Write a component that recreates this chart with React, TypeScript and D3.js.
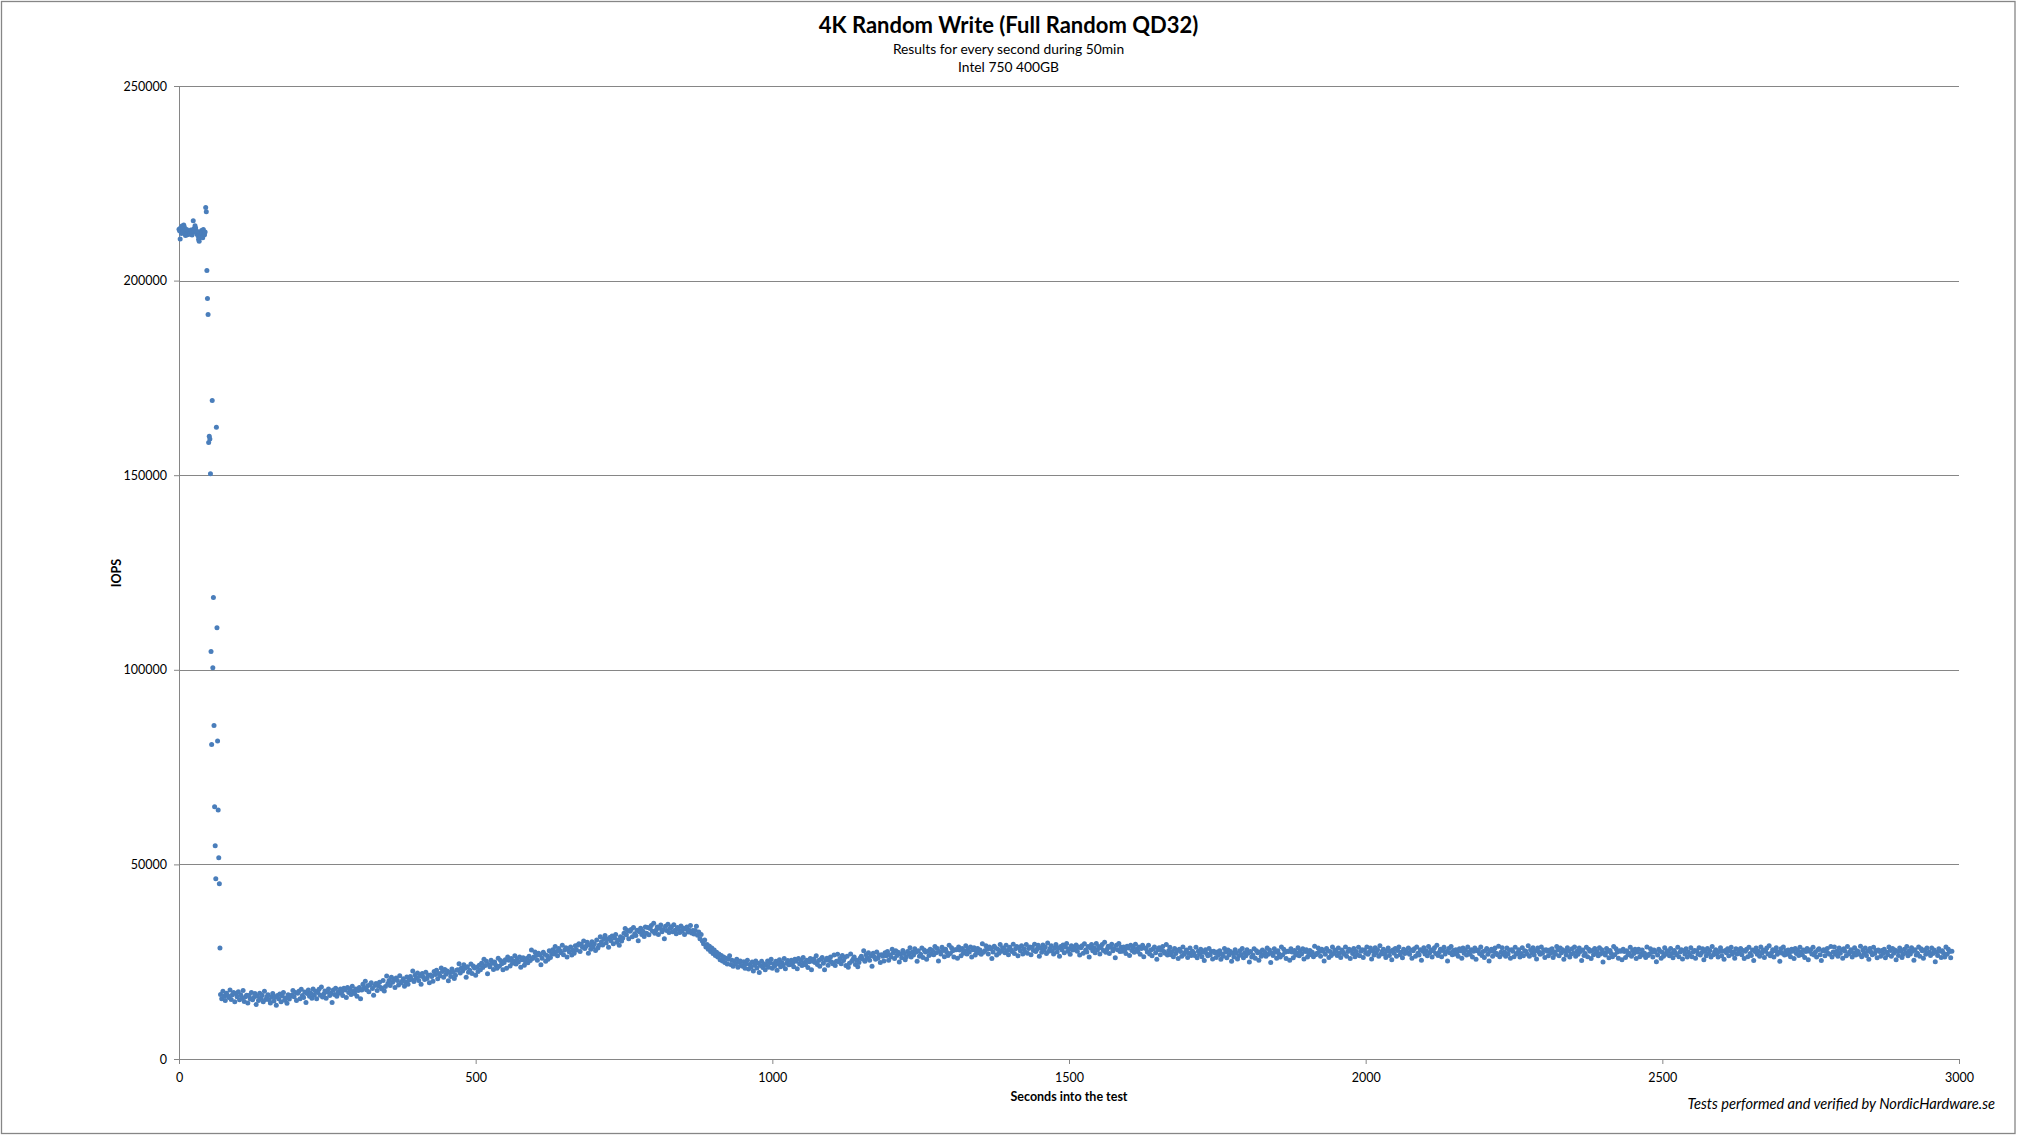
import { useEffect, useRef } from 'react';
import * as d3 from 'd3';

const WIDTH = 2017;
const HEIGHT = 1135;
const margin = { left: 179, right: 58, top: 86, bottom: 76 };

const title = '4K Random Write (Full Random QD32)';
const subtitles = ['Results for every second during 50min', 'Intel 750 400GB'];
const xTitle = 'Seconds into the test';
const yTitle = 'IOPS';
const credit = 'Tests performed and verified by NordicHardware.se';

const xTicks = [0, 500, 1000, 1500, 2000, 2500, 3000];
const yTicks = [0, 50000, 100000, 150000, 200000, 250000];

// all values below are IOPS / 100
const UNIT = 100;

// seconds 0..69, one value per second
const burstIops = [
  2132, 2128, 2107, 2136, 2121, 2140, 2134, 2125, 2143, 2138,
  2120, 2116, 2129, 2131, 2118, 2123, 2126, 2119, 2124, 2122,
  2130, 2121, 2117, 2128, 2154, 2133, 2127, 2141, 2135, 2124,
  2120, 2126, 2115, 2106, 2101, 2112, 2123, 2116, 2129, 2122,
  2110, 2131, 2124, 2118, 2125,
  2188, 2177, 2026, 1954, 1913, 1584, 1600, 1593, 1504, 1047,
  808, 1692, 1005, 1186, 857, 648, 548, 463, 1623, 1108,
  817, 640, 517, 450, 285,
];

// from here on one value every 2 seconds
const STEP = 2;

const rampStart = 70;
const rampIops = [
  166, 155, 174, 161, 150, 169, 163, 158, 177, 153, 165, 171, 147, 168, 160, 173, 152, 165, 157, 176,
  148, 160, 164, 144, 163, 155, 171, 152, 158, 168, 140, 161, 150, 169, 156, 164, 147, 174, 153, 160,
  165, 152, 144, 160, 168, 149, 159, 138, 163, 155, 167, 147, 162, 171, 151, 157, 143, 165, 154, 162,
  164, 176, 160, 171, 150, 169, 174, 155, 179, 163, 158, 172, 145, 168, 177, 161, 169, 156, 180, 164,
  174, 155, 171, 179, 164, 185, 159, 167, 175, 156, 172, 180, 163, 169, 145, 177, 166, 182, 161, 172,
  169, 180, 172, 163, 182, 177, 158, 184, 171, 179, 166, 187, 174, 168, 180, 161, 176, 184, 155, 177,
  192, 183, 200, 178, 188, 173, 191, 196, 181, 164, 189, 194, 176, 188, 197, 184, 180, 202, 175, 186,
  213, 194, 202, 189, 210, 197, 205, 184, 208, 202, 190, 214, 195, 200, 206, 187, 198, 211, 192, 203,
  212, 205, 226, 199, 216, 208, 221, 202, 213, 192, 220, 210, 204, 223, 207, 215, 196, 216, 212, 200,
  225, 217, 228, 206, 220, 214, 234, 225, 210, 230, 218, 226, 201, 222, 212, 231, 223, 207, 215, 228,
  229, 245, 221, 234, 226, 242, 233, 210, 237, 223, 228, 244, 220, 239, 234, 215, 236, 225, 241, 229,
  246, 235, 256, 240, 251, 219, 243, 237, 254, 246, 230, 249, 241, 233, 259, 238, 253, 245, 229, 248,
  255, 233, 262, 254, 239, 258, 246, 252, 265, 244, 257, 249, 262, 236, 255, 260, 241, 250, 258, 247,
  264, 253, 280, 258, 262, 275, 266, 254, 272, 267, 242, 259, 274, 269, 251, 266, 256, 278, 261, 270,
  281, 270, 289, 276, 265, 284, 278, 273, 292, 268, 280, 286, 262, 283, 275, 288, 267, 280, 272, 291,
  280, 292, 296, 276, 295, 287, 303, 284, 290, 300, 272, 293, 282, 301, 288, 296, 279, 306, 285, 292,
  314, 301, 293, 309, 317, 298, 308, 287, 312, 304, 316, 296, 311, 320, 300, 306, 292, 314, 303, 311,
  323, 335, 319, 330, 309, 328, 333, 314, 338, 322, 317, 331, 304, 327, 336, 320, 328, 315, 339, 323,
  338, 319, 335, 343, 328, 349, 323, 331, 339, 320, 336, 344, 327, 333, 309, 341, 330, 346, 325, 336,
];

const dropStart = 830;
const dropIops = [
  340, 327, 345, 331, 322, 338, 333, 325, 342, 329, 336, 320, 334, 339, 326, 331, 343, 324, 330, 321,
  330, 341, 318, 326, 309, 320, 303, 296, 306, 288, 294, 282, 290, 276, 285, 271, 280, 266, 274, 262,
  270, 255, 266, 252, 262, 248, 259, 244, 256, 265, 243, 254, 238, 251, 245, 256, 236, 248, 252, 240,
  238, 250, 233, 245, 254, 231, 243, 236, 249, 226, 241, 252, 234, 246, 222, 240, 251, 235, 244, 229,
  241, 252, 236, 247, 256, 233, 245, 239, 251, 228, 244, 255, 237, 248, 240, 258, 232, 246, 253, 242,
];

const recoveryStart = 1030;
const recoveryIops = [
  243, 254, 246, 237, 256, 251, 232, 258, 245, 253, 240, 261, 248, 242, 254, 235, 250, 258, 229, 251,
  257, 248, 265, 243, 253, 238, 256, 261, 246, 229, 254, 259, 241, 253, 262, 249, 245, 267, 240, 251,
  269, 250, 258, 245, 266, 253, 261, 240, 264, 236, 246, 270, 251, 256, 262, 243, 254, 237, 248, 259,
  264, 257, 278, 251, 268, 260, 273, 254, 265, 238, 272, 262, 256, 275, 259, 267, 248, 268, 264, 252,
  273, 265, 276, 254, 268, 262, 282, 273, 258, 278, 266, 274, 249, 270, 260, 279, 271, 255, 263, 276,
  270, 286, 262, 275, 267, 283, 274, 251, 278, 264, 269, 285, 261, 280, 275, 256, 277, 266, 282, 270,
  279, 268, 289, 273, 284, 252, 276, 270, 287, 279, 263, 282, 274, 266, 292, 271, 286, 278, 262, 281,
  281, 259, 288, 280, 265, 284, 272, 278, 291, 270, 283, 275, 288, 262, 281, 286, 267, 276, 284, 273,
  280, 269, 296, 274, 278, 291, 282, 270, 288, 283, 258, 275, 290, 285, 267, 282, 272, 294, 277, 286,
  284, 273, 292, 279, 268, 287, 281, 276, 295, 271, 283, 289, 265, 286, 278, 291, 270, 283, 275, 294,
  272, 284, 288, 268, 287, 279, 295, 276, 282, 292, 264, 285, 274, 293, 280, 288, 271, 298, 277, 284,
  291, 278, 270, 286, 294, 275, 285, 264, 289, 281, 293, 273, 288, 297, 277, 283, 269, 291, 280, 288,
  281, 293, 277, 288, 267, 286, 291, 272, 296, 280, 275, 289, 262, 285, 294, 278, 286, 273, 297, 281,
  289, 270, 286, 294, 279, 300, 274, 282, 290, 271, 287, 295, 278, 284, 260, 292, 281, 297, 276, 287,
  277, 288, 280, 271, 290, 285, 266, 292, 279, 287, 274, 295, 282, 276, 288, 269, 284, 292, 263, 285,
];

const steadyStart = 1630;
const steadyIops = [
  284, 275, 292, 270, 280, 265, 283, 288, 273, 256, 281, 286, 268, 280, 289, 276, 272, 294, 267, 278,
  287, 268, 276, 263, 284, 271, 279, 258, 282, 276, 264, 288, 269, 274, 280, 261, 272, 285, 266, 277,
  273, 266, 287, 260, 277, 269, 282, 263, 274, 253, 281, 271, 265, 284, 268, 276, 257, 277, 273, 261,
  275, 267, 278, 256, 270, 264, 284, 275, 260, 280, 268, 276, 251, 272, 262, 281, 273, 257, 265, 278,
  268, 284, 260, 273, 265, 281, 272, 249, 276, 262, 267, 283, 259, 278, 273, 254, 275, 264, 280, 268,
  275, 264, 285, 269, 280, 248, 272, 266, 283, 275, 259, 278, 270, 262, 288, 267, 282, 274, 258, 277,
  276, 254, 283, 275, 260, 279, 267, 273, 286, 265, 278, 270, 283, 257, 276, 281, 262, 271, 279, 268,
  274, 263, 290, 268, 272, 285, 276, 264, 282, 277, 252, 269, 284, 279, 261, 276, 266, 288, 271, 280,
  277, 266, 285, 272, 261, 280, 274, 269, 288, 264, 276, 282, 258, 279, 271, 284, 263, 276, 268, 287,
  265, 277, 281, 261, 280, 272, 288, 269, 275, 285, 257, 278, 267, 286, 273, 281, 264, 291, 270, 277,
  282, 269, 261, 277, 285, 266, 276, 255, 280, 272, 284, 264, 279, 288, 268, 274, 260, 282, 271, 279,
  273, 285, 269, 280, 259, 278, 283, 264, 288, 272, 267, 281, 254, 277, 286, 270, 278, 265, 289, 273,
  281, 262, 278, 286, 271, 292, 266, 274, 282, 263, 279, 287, 270, 276, 252, 284, 273, 289, 268, 279,
  270, 281, 273, 264, 283, 278, 259, 285, 272, 280, 267, 288, 275, 269, 281, 262, 277, 285, 256, 278,
  280, 271, 288, 266, 276, 261, 279, 284, 269, 252, 277, 282, 264, 276, 285, 272, 268, 290, 263, 274,
  286, 269, 275, 264, 285, 270, 280, 259, 281, 277, 263, 287, 270, 273, 281, 262, 271, 286, 265, 278,
  277, 270, 291, 264, 281, 273, 286, 267, 278, 257, 285, 275, 269, 288, 272, 280, 261, 281, 277, 265,
  280, 272, 283, 261, 275, 269, 289, 280, 265, 285, 273, 281, 256, 277, 267, 286, 278, 262, 270, 283,
  272, 288, 264, 277, 269, 285, 276, 253, 280, 266, 271, 287, 263, 282, 277, 258, 279, 268, 284, 272,
  276, 265, 286, 270, 281, 249, 273, 267, 284, 276, 260, 279, 271, 263, 289, 268, 283, 275, 259, 278,
  277, 255, 282, 276, 261, 278, 268, 272, 287, 264, 279, 271, 282, 258, 275, 282, 263, 270, 280, 267,
  272, 261, 288, 266, 270, 283, 274, 262, 280, 275, 250, 267, 282, 277, 259, 274, 264, 286, 269, 278,
  276, 265, 284, 271, 260, 279, 273, 268, 287, 263, 275, 281, 257, 278, 270, 283, 262, 275, 267, 286,
  263, 275, 279, 259, 278, 270, 286, 267, 273, 283, 255, 276, 265, 284, 271, 279, 262, 289, 268, 275,
  281, 270, 262, 276, 286, 265, 277, 256, 279, 273, 283, 265, 278, 287, 269, 275, 259, 283, 270, 280,
  272, 284, 268, 279, 258, 277, 282, 263, 287, 271, 266, 280, 253, 276, 285, 269, 277, 264, 288, 272,
  280, 261, 277, 285, 270, 291, 265, 273, 281, 262, 278, 286, 269, 275, 251, 283, 272, 288, 267, 278,
  269, 280, 272, 263, 282, 277, 258, 284, 271, 279, 266, 287, 274, 268, 280, 261, 276, 284, 255, 277,
  281, 270, 287, 267, 275, 262, 280, 283, 268, 253, 278, 281, 265, 277, 284, 271, 269, 289, 262, 275,
  288, 269, 277, 264, 285, 272, 280, 259, 283, 277, 265, 289, 270, 275, 281, 262, 273, 286, 267, 278,
  276, 269, 290, 263, 280, 272, 285, 266, 277, 256, 284, 274, 268, 287, 271, 279, 260, 280, 276, 264,
  279, 271, 282, 260, 274, 268, 288, 279, 264, 284, 272, 280, 255, 276, 266, 285, 277, 261, 269, 282,
  273, 289, 265, 278, 270, 286, 277, 254, 281, 267, 272, 288, 264, 283, 278, 259, 280, 269, 285, 273,
  275, 266, 285, 271, 280, 250, 274, 266, 283, 277, 261, 278, 272, 262, 288, 269, 282, 276, 260, 277,
];

const segments = [
  { start: rampStart, values: rampIops },
  { start: dropStart, values: dropIops },
  { start: recoveryStart, values: recoveryIops },
  { start: steadyStart, values: steadyIops },
];

const FONT = 'Lato, "Open Sans", sans-serif';
const GRID = '#868686';
const DOT = '#4a7ebb';

function App() {
  const svgRef = useRef<SVGSVGElement>(null);

  useEffect(() => {
    if (svgRef.current === null) return;

    const points: { t: number; v: number }[] = burstIops.map((v, i) => ({ t: i, v: v * UNIT }));
    segments.forEach(({ start, values }) => {
      values.forEach((v, i) => points.push({ t: start + i * STEP, v: v * UNIT }));
    });

    const graphWidth = WIDTH - margin.left - margin.right;
    const graphHeight = HEIGHT - margin.top - margin.bottom;

    const x = d3.scaleLinear().domain([0, 3000]).range([0, graphWidth]);
    const y = d3.scaleLinear().domain([0, 250000]).range([graphHeight, 0]);

    const svg = d3.select(svgRef.current).attr('width', WIDTH).attr('height', HEIGHT);
    svg.selectAll('*').remove();

    svg.append('rect')
      .attr('x', 1.5).attr('y', 1.5)
      .attr('width', WIDTH - 3.5).attr('height', HEIGHT - 3)
      .attr('fill', '#fff').attr('stroke', GRID).attr('stroke-width', 1.3);

    const body = svg.append('g').attr('transform', `translate(${margin.left}, ${margin.top})`);

    body.append('g')
      .selectAll('line')
      .data(yTicks.filter((d) => d > 0))
      .enter()
      .append('line')
      .attr('x1', 0).attr('x2', graphWidth)
      .attr('y1', (d) => Math.round(y(d)) + 0.5).attr('y2', (d) => Math.round(y(d)) + 0.5)
      .attr('stroke', GRID);

    const yAxis = body.append('g')
      .call(d3.axisLeft(y).tickValues(yTicks).tickFormat(d3.format('d')).tickSize(5).tickSizeOuter(0).tickPadding(7));

    const xAxis = body.append('g')
      .attr('transform', `translate(0, ${graphHeight})`)
      .call(d3.axisBottom(x).tickValues(xTicks).tickFormat(d3.format('d')).tickSize(5).tickSizeOuter(0).tickPadding(9));

    [yAxis, xAxis].forEach((axis) => {
      axis.selectAll('path, line').attr('stroke', GRID);
      axis.selectAll('text')
        .attr('fill', '#000')
        .style('font-family', FONT)
        .style('font-size', '12.5px');
    });

    body.append('g')
      .selectAll('circle')
      .data(points)
      .enter()
      .append('circle')
      .attr('cx', (d) => x(d.t))
      .attr('cy', (d) => y(d.v))
      .attr('r', 2.5)
      .attr('fill', DOT);

    const text = (tx: number, ty: number, s: string, size: number, weight = 'normal', style = 'normal', anchor = 'middle') =>
      svg.append('text')
        .attr('x', tx).attr('y', ty)
        .attr('text-anchor', anchor)
        .style('font-family', FONT)
        .style('font-size', `${size}px`)
        .style('font-weight', weight)
        .style('font-style', style)
        .attr('fill', '#000')
        .text(s);

    text(WIDTH / 2, 33, title, 22, 'bold');
    text(WIDTH / 2, 54, subtitles[0], 13.8);
    text(WIDTH / 2, 72, subtitles[1], 13.8);
    text(margin.left + graphWidth / 2, 1101, xTitle, 12.5, 'bold');
    text(1995, 1109, credit, 14.6, 'normal', 'italic', 'end');

    svg.append('text')
      .attr('transform', `translate(121, 573) rotate(-90)`)
      .attr('text-anchor', 'middle')
      .style('font-family', FONT)
      .style('font-size', '12.5px')
      .style('font-weight', 'bold')
      .attr('fill', '#000')
      .text(yTitle);
  }, [svgRef]);

  return (
    <div style={{ position: 'absolute', left: 0, top: 0 }}>
      <svg ref={svgRef} style={{ display: 'block' }} />
    </div>
  );
}

export default App;
